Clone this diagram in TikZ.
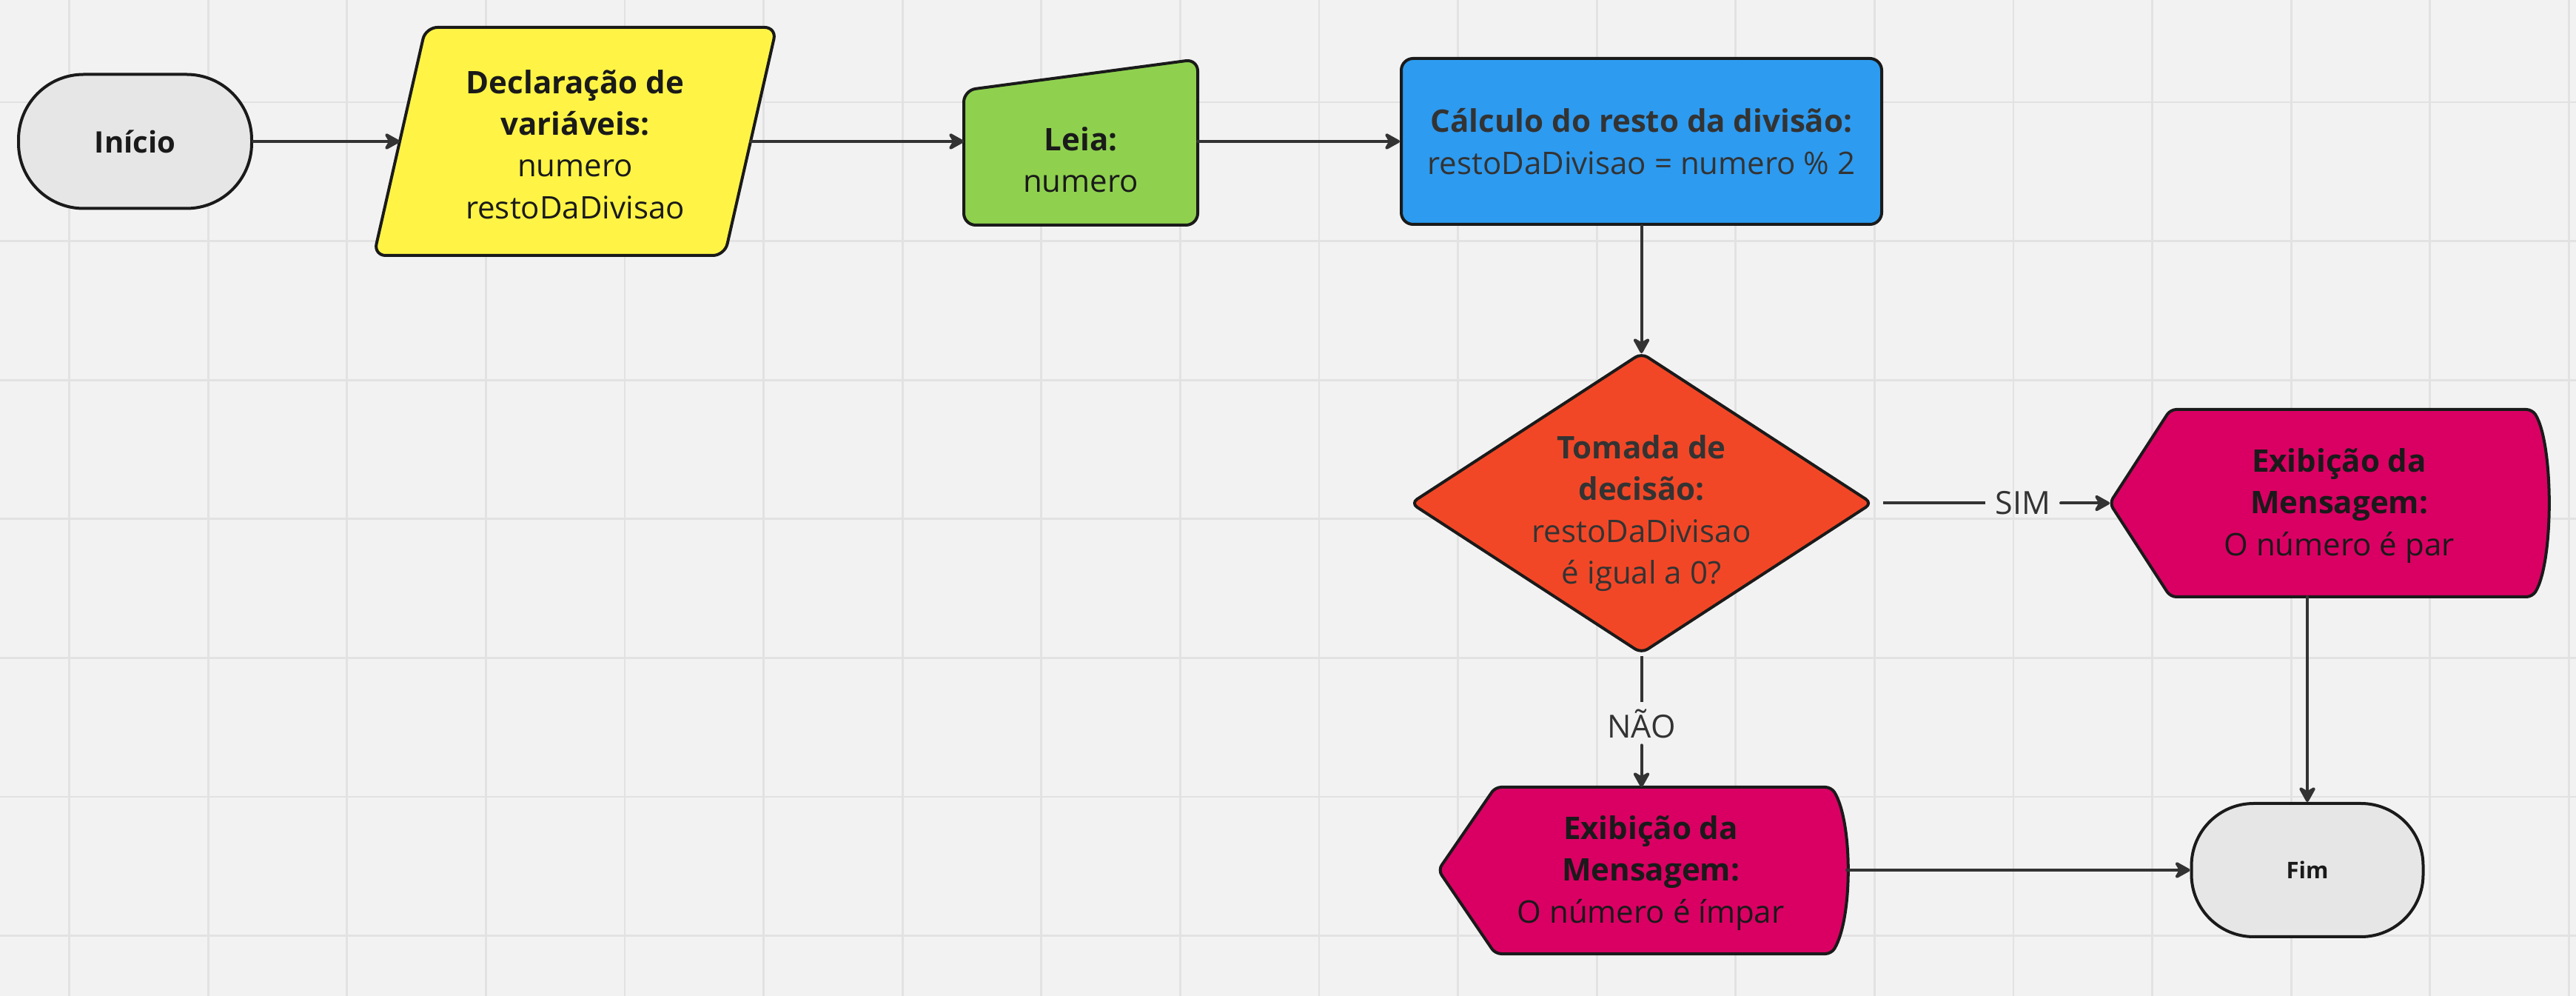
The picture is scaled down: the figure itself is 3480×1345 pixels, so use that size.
\documentclass[tikz,border=0pt]{standalone}
\usepackage{fontspec}
\setmainfont{Open Sans}
\usetikzlibrary{arrows.meta}
\definecolor{bg}{HTML}{F2F2F2}
\definecolor{gridc}{HTML}{E2E2E2}
\definecolor{termfill}{HTML}{E6E6E6}
\definecolor{yel}{HTML}{FFF445}
\definecolor{grn}{HTML}{8FD14F}
\definecolor{blu}{HTML}{2D9BF0}
\definecolor{org}{HTML}{F24726}
\definecolor{mag}{HTML}{DA0063}
\definecolor{edge}{HTML}{1A1A1A}
\definecolor{txt}{HTML}{1A1A1A}
\definecolor{txtg}{HTML}{333333}
\definecolor{conc}{HTML}{333333}
\tikzset{
  gridline/.style={draw=gridc, line width=0.7pt},
  shapeline/.style={draw=edge, line width=1pt, line join=round},
  term/.style={shapeline, fill=termfill, rounded corners=22pt, font=\fontsize{10}{14}\selectfont\bfseries, text=txt},
  body/.style={font=\fontsize{10.5}{14.1}\selectfont, text=txt, align=center},
  lab/.style={font=\fontsize{10.75}{13}\selectfont, text=txtg, inner xsep=3.25pt, inner ysep=2.25pt},
  conn/.style={draw=conc, line width=1pt, line cap=round, -{Stealth[length=6.25pt, width=6.9pt, inset=2pt, round]}},
  plain/.style={draw=conc, line width=1pt},
}
\begin{document}
\begin{tikzpicture}[x=0.25pt, y=-0.25pt]
\fill[bg] (0,0) rectangle (3480,1345);
\useasboundingbox (0,0) rectangle (3480,1345);
\foreach \i in {0,...,18} \draw[gridline] ({93.5+187.6*\i},0) -- ({93.5+187.6*\i},1345);
\foreach \j in {0,...,6} \draw[gridline] (0,{138+187.6*\j}) -- (3480,{138+187.6*\j});

% Inicio
\node[term, minimum width=78.75pt, minimum height=45.25pt] (inicio) at (182.5,191) {Início};

% Declaracao (parallelogram)
\draw[shapeline, fill=yel, rounded corners=4pt] (575,37) -- (1049,37) -- (979,345) -- (505,345) -- cycle;
\node[body] (decl) at (777,195) {\textbf{Declaração de}\\\textbf{variáveis:}\\numero\\restoDaDivisao};
\coordinate (declW) at (540,191);
\coordinate (declE) at (1014,191);

% Leia (manual input)
\draw[shapeline, fill=grn, rounded corners=4pt] (1302,122) -- (1618,80) -- (1618,304) -- (1302,304) -- cycle;
\node[body] (leia) at (1460,216) {\textbf{Leia:}\\numero};
\coordinate (leiaW) at (1302,191);
\coordinate (leiaE) at (1618,191);

% Calculo
\node[shapeline, fill=blu, rounded corners=4pt, minimum width=162.25pt, minimum height=56pt, body, text=txtg] (calc) at (2217.5,191) {\textbf{Cálculo do resto da divisão:}\\restoDaDivisao = numero \% 2};

% Decision diamond
\draw[shapeline, fill=org, rounded corners=2.5pt] (2217.5,477) -- (2529,679.5) -- (2217.5,882) -- (1906,679.5) -- cycle;
\node[body, text=txtg] (dec) at (2217.5,693) {\textbf{Tomada de}\\\textbf{decisão:}\\restoDaDivisao\\é igual a 0?};
\coordinate (decN) at (2217.5,477);
\coordinate (decE) at (2544,679.5);
\coordinate (decS) at (2217.5,886);

% Display par
\draw[shapeline, fill=mag, rounded corners=2pt] (2850,679.5) -- (2932,553) -- (3421,553) .. controls (3450,600) and (3450,759) .. (3421,806) -- (2932,806) -- cycle;
\node[body] (par) at (3160,683) {\textbf{Exibição da}\\\textbf{Mensagem:}\\O número é par};
\coordinate (parW) at (2850,679.5);
\coordinate (parS) at (3117,806);

% Display impar
\draw[shapeline, fill=mag, rounded corners=2pt] (1943,1175) -- (2020,1063) -- (2474,1063) .. controls (2503,1110) and (2503,1240) .. (2474,1288) -- (2020,1288) -- cycle;
\node[body] (impar) at (2230,1179) {\textbf{Exibição da}\\\textbf{Mensagem:}\\O número é ímpar};
\coordinate (imparN) at (2217.5,1063);
\coordinate (imparE) at (2495,1175);

% Fim
\node[term, minimum width=78.25pt, minimum height=45pt, rounded corners=21pt, font=\fontsize{7.75}{10}\selectfont\bfseries] (fim) at (3117,1175) {Fim};

% Labels
\node[lab] (sim) at (2733,679.5) {SIM};
\node[lab] (nao) at (2217.5,977) {NÃO};

% Connectors
\draw[conn] (inicio.east) -- (declW);
\draw[conn] (declE) -- (leiaW);
\draw[conn] (leiaE) -- (calc.west);
\draw[conn] (calc.south) -- (decN);
\draw[plain] (decE) -- (sim.west);
\draw[conn] (sim.east) -- (parW);
\draw[plain] (decS) -- (nao.north);
\draw[conn] (nao.south) -- (imparN);
\draw[conn] (parS) -- (fim.north);
\draw[conn] (imparE) -- (fim.west);
\end{tikzpicture}
\end{document}
